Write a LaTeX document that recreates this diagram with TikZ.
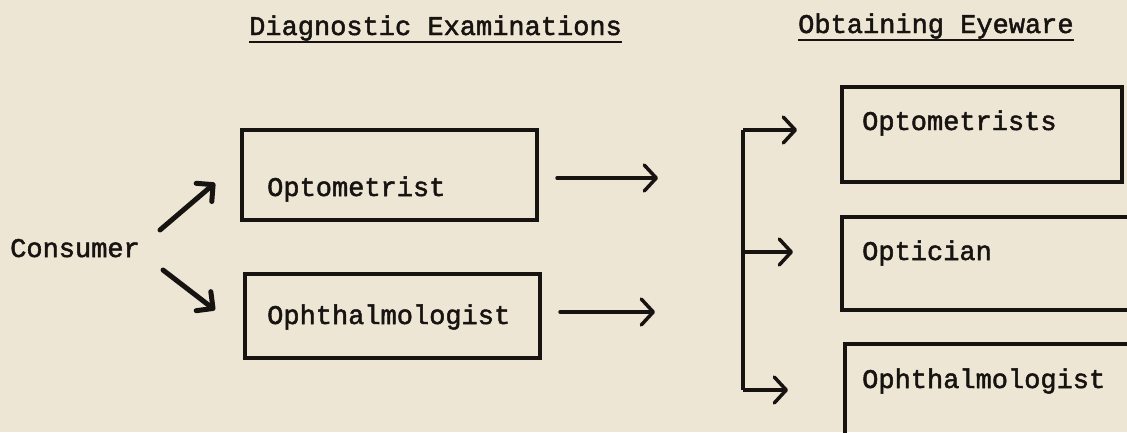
\documentclass[tikz,border=0pt]{standalone}
\usepackage{fontspec}
\setmonofont{Liberation Mono}[FakeBold=1.8]
\usetikzlibrary{arrows.meta}
\definecolor{paper}{RGB}{238,230,213}
\definecolor{ink}{RGB}{22,19,17}
\begin{document}
\begin{tikzpicture}[x=1pt,y=-1pt,
  txt/.style={font=\ttfamily\fontsize{27}{30}\selectfont, inner sep=0pt, anchor=base west, text=ink},
  box/.style={draw=ink, line width=3.5pt, anchor=north west, inner sep=0pt},
  arr/.style={draw=ink, line width=3.5pt, line cap=round, -{Straight Barb[length=12pt,width=26pt,round]}},
  carr/.style={draw=ink, line width=5pt, line cap=round, -{Straight Barb[length=12pt,width=24pt,round]}},
  uline/.style={draw=ink, line width=2.5pt}
  ]
\path[use as bounding box, fill=paper] (0,0) rectangle (1127,432);
\clip (0,0) rectangle (1127,432);

% headings
\node[txt] (h1) at (249,35) {Diagnostic Examinations};
\node[txt] (h2) at (798,33) {Obtaining Eyeware};
\draw[uline] ([yshift=-7pt]h1.base west) -- ([yshift=-7pt]h1.base east);
\draw[uline] ([yshift=-7pt]h2.base west) -- ([yshift=-7pt]h2.base east);

% consumer
\node[txt] (cons) at (10,257) {Consumer};

% left boxes
\node[box, minimum width=295pt, minimum height=90pt] (b1) at (240,128) {};
\node[box, minimum width=295pt, minimum height=84pt] (b2) at (243,272) {};
\node[txt] (t1) at (267,196) {Optometrist};
\node[txt] (t2) at (267,324) {Ophthalmologist};

% right boxes
\node[box, minimum width=280pt, minimum height=95pt] (b3) at (840,85) {};
\node[box, minimum width=300pt, minimum height=93pt] (b4) at (840,215) {};
\node[box, minimum width=300pt, minimum height=110pt] (b5) at (843,342) {};
\node[txt] (t3) at (862,130) {Optometrists};
\node[txt] (t4) at (862,260) {Optician};
\node[txt] (t5) at (862,388) {Ophthalmologist};

% consumer arrows
\coordinate (c1s) at (160,230); \coordinate (c1e) at (215,183);
\coordinate (c2s) at (163,270); \coordinate (c2e) at (215,310);
\draw[carr] (c1s) -- (c1e);
\draw[carr] (c2s) -- (c2e);

% box arrows
\coordinate (a1s) at (557,178); \coordinate (a1e) at (658,178);
\coordinate (a2s) at (560,312); \coordinate (a2e) at (655,312);
\draw[arr] (a1s) -- (a1e);
\draw[arr] (a2s) -- (a2e);

% bracket
\coordinate (brt) at (743,130); \coordinate (brm) at (743,252); \coordinate (brb) at (743,390);
\coordinate (e1) at (797,130); \coordinate (e2) at (793,252); \coordinate (e3) at (788,390);
\draw[draw=ink, line width=3.5pt] (brt) -- (brb);
\draw[arr, line cap=butt] (brt) -- (e1);
\draw[arr, line cap=butt] (brm) -- (e2);
\draw[arr, line cap=butt] (brb) -- (e3);
\end{tikzpicture}
\end{document}
